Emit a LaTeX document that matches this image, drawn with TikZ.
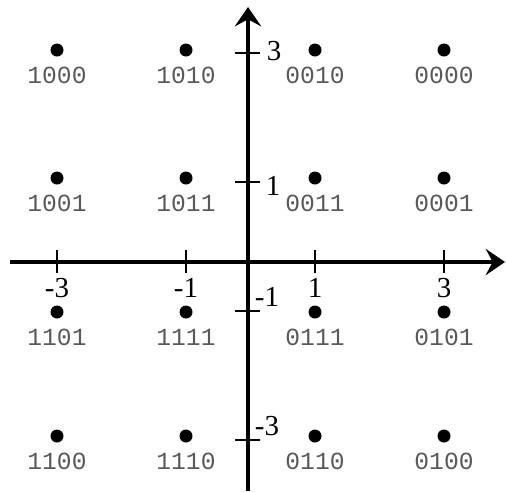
\documentclass[tikz,border=0pt]{standalone}
\usepackage{fontspec}
\setmainfont{Liberation Serif}
\newfontfamily\bitfont{Liberation Mono}
\usetikzlibrary{arrows.meta,positioning}

\begin{document}
\begin{tikzpicture}[
    x=0.02cm, y=-0.02cm,
    every node/.style={align=center},
    dot/.style={circle, fill=black, inner sep=0pt, minimum size=0.26cm},
    bits/.style={font=\bitfont\fontsize{14}{14}\selectfont, text=black!65, inner sep=0pt, below=0.2cm of #1},
    num/.style={font=\fontsize{16.5}{17}\selectfont, inner sep=0pt},
    tickmark/.style={line width=1.3pt},
    axis/.style={line width=1.9pt, -{Stealth[length=11pt, width=15pt, inset=4pt]}}
]
\useasboundingbox (0,0) rectangle (506,491);

% Axes
\coordinate (xstart) at (10,262);
\coordinate (xend) at (505,262);
\coordinate (ystart) at (248,491);
\coordinate (yend) at (248,7);
\draw[axis] (xstart) -- (xend);
\draw[axis] (ystart) -- (yend);

% Ticks on the horizontal axis
\draw[tickmark] (57,250) -- (57,273);
\draw[tickmark] (186,250) -- (186,273);
\draw[tickmark] (315,250) -- (315,273);
\draw[tickmark] (444,250) -- (444,273);
\node[num] (xm3) at (57,288) {-3};
\node[num] (xm1) at (186,288) {-1};
\node[num] (xp1) at (315,288) {1};
\node[num] (xp3) at (444,288) {3};

% Ticks on the vertical axis
\draw[tickmark] (235,53) -- (260,53);
\draw[tickmark] (235,182) -- (260,182);
\draw[tickmark] (235,311) -- (260,311);
\draw[tickmark] (235,440) -- (260,440);
\node[num] (yp3) at (274,51) {3};
\node[num] (yp1) at (273,186) {1};
\node[num] (ym1) at (267,297) {-1};
\node[num] (ym3) at (267,426) {-3};

% Constellation points
\node[dot] (p1000) at (57,50) {};
\node[dot] (p1010) at (186,50) {};
\node[dot] (p0010) at (315,50) {};
\node[dot] (p0000) at (444,50) {};
\node[dot] (p1001) at (57,178) {};
\node[dot] (p1011) at (186,178) {};
\node[dot] (p0011) at (315,178) {};
\node[dot] (p0001) at (444,178) {};
\node[dot] (p1101) at (57,312) {};
\node[dot] (p1111) at (186,312) {};
\node[dot] (p0111) at (315,312) {};
\node[dot] (p0101) at (444,312) {};
\node[dot] (p1100) at (57,436) {};
\node[dot] (p1110) at (186,436) {};
\node[dot] (p0110) at (315,436) {};
\node[dot] (p0100) at (444,436) {};

% Bit labels
\node[bits=p1000] (b1000) {1000};
\node[bits=p1010] (b1010) {1010};
\node[bits=p0010] (b0010) {0010};
\node[bits=p0000] (b0000) {0000};
\node[bits=p1001] (b1001) {1001};
\node[bits=p1011] (b1011) {1011};
\node[bits=p0011] (b0011) {0011};
\node[bits=p0001] (b0001) {0001};
\node[bits=p1101] (b1101) {1101};
\node[bits=p1111] (b1111) {1111};
\node[bits=p0111] (b0111) {0111};
\node[bits=p0101] (b0101) {0101};
\node[bits=p1100] (b1100) {1100};
\node[bits=p1110] (b1110) {1110};
\node[bits=p0110] (b0110) {0110};
\node[bits=p0100] (b0100) {0100};

\end{tikzpicture}
\end{document}
